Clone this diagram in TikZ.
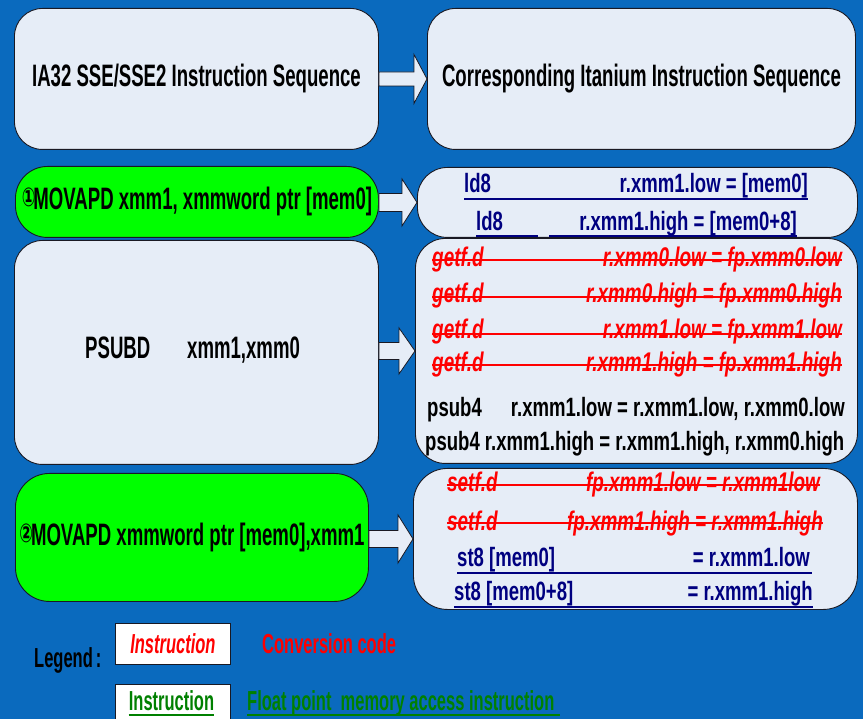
\documentclass[tikz,border=0pt]{standalone}
\usepackage{fontspec}
\setmainfont{Liberation Sans}
\newfontfamily\nA{Liberation Sans}[FakeStretch=0.6]
\newfontfamily\nB{Liberation Sans}[FakeStretch=0.7]
\newfontfamily\dvs{DejaVu Sans}[FakeStretch=0.62]
\usetikzlibrary{calc}
\definecolor{bgblue}{RGB}{10,106,190}
\definecolor{boxfill}{RGB}{230,237,247}
\definecolor{navy}{RGB}{0,0,128}
\definecolor{lgreen}{RGB}{0,255,0}
\definecolor{dgreen}{RGB}{0,128,0}
\definecolor{edge}{RGB}{25,25,35}
\newcommand{\blkarrow}[5]{%
  \draw[arrowsty] let \p1=(#1.east), \p2=(#2.west) in
  (\x1,\y2+#3) -- (\x2-#5,\y2+#3) -- (\x2-#5,\y2+#4) -- (\x2,\y2) --
  (\x2-#5,\y2-#4) -- (\x2-#5,\y2-#3) -- (\x1,\y2-#3) -- cycle;}
\newcommand{\circnum}[1]{\raisebox{3pt}{\dvs\fontsize{26}{26}\selectfont #1}\kern-2pt}
\tikzset{
  box/.style={draw=edge, line width=0.9pt, fill=boxfill, rounded corners=#1,
    inner sep=0pt, anchor=north west},
  box/.default=28pt,
  gbox/.style={box=#1, fill=lgreen},
  gbox/.default=32pt,
  arrowsty/.style={draw=edge, line width=0.8pt, fill=boxfill},
  ttl/.style={font=\nA\bfseries\fontsize{31}{36}\selectfont, text=black},
  nav/.style={font=\nB\bfseries\fontsize{26.5}{30}\selectfont, text=navy, inner sep=0pt},
  rd/.style={font=\nB\bfseries\itshape\fontsize{27}{30}\selectfont, text=red, inner sep=0pt},
  blk/.style={font=\nB\bfseries\fontsize{26.5}{30}\selectfont, text=black, inner sep=0pt},
  lg/.style={font=\nA\bfseries\fontsize{27.5}{30}\selectfont, inner sep=0pt},
  ul/.style={draw=navy, line width=2pt},
  strike/.style={draw=red, line width=1.6pt},
  gul/.style={draw=dgreen, line width=2pt},
}
\begin{document}
\begin{tikzpicture}[x=1pt,y=1pt]
\fill[bgblue] (0,0) rectangle (863,-719);
\clip (0,0) rectangle (863,-719);
\useasboundingbox (0,0) rectangle (863,-719);

% boxes
\node[box, ttl, minimum width=364pt, minimum height=141pt] (tl) at (14,-8) {IA32 SSE/SSE2 Instruction Sequence};
\node[box, ttl, minimum width=428pt, minimum height=141pt] (tr) at (427,-8) {Corresponding Itanium Instruction Sequence};

\node[gbox, ttl, minimum width=363pt, minimum height=71pt] (g1) at (15,-166) {\circnum{①}MOVAPD xmm1, xmmword ptr [mem0]};
\node[box=30pt, minimum width=440pt, minimum height=70pt] (r1) at (417,-167) {};

\node[box, minimum width=364pt, minimum height=224pt] (l3) at (14,-240) {};
\node[box=30pt, minimum width=442pt, minimum height=225pt] (r3) at (415,-238) {};

\node[gbox=34pt, ttl, minimum width=353pt, minimum height=128pt] (g4) at (15,-473) {\circnum{②}MOVAPD xmmword ptr [mem0],xmm1};
\node[box=34pt, minimum width=444pt, minimum height=141pt] (r4) at (413,-468) {};

% arrows
\blkarrow{tl}{tr}{7pt}{24.5pt}{13pt}
\blkarrow{g1}{r1}{9pt}{23.5pt}{15pt}
\blkarrow{l3}{r3}{8.5pt}{23pt}{16pt}
\blkarrow{g4}{r4}{8.5pt}{24pt}{15pt}

% PSUBD
\node[ttl, inner sep=0pt, anchor=base west] (ps1) at (85,-359) {PSUBD};
\node[ttl, inner sep=0pt, anchor=base west] (ps2) at (187,-359) {xmm1,xmm0};

% row 2 right
\node[nav, anchor=base west] (a1) at (464,-193) {ld8};
\node[nav, anchor=base east] (b1) at (808,-193) {r.xmm1.low = [mem0]};
\draw[ul] ([yshift=-6pt]a1.base west) -- ([yshift=-6pt]b1.base east);
\node[nav, anchor=base west] (a2) at (476,-231) {ld8};
\node[nav, anchor=base east] (b2) at (797,-231) {r.xmm1.high = [mem0+8]};
\draw[ul] ([yshift=-5pt]a2.base west) -- ++(62pt,0);
\draw[ul] ([yshift=-5pt,xshift=-30pt]b2.base west) -- ([yshift=-5pt]b2.base east);

% row 3 right
\node[rd, anchor=base west] (c1) at (432,-267) {getf.d};
\node[rd, anchor=base east] (d1) at (842,-267) {r.xmm0.low = fp.xmm0.low};
\draw[strike] ([yshift=7pt]c1.base west) -- ([yshift=7pt]d1.base east);
\node[rd, anchor=base west] (c2) at (432,-303) {getf.d};
\node[rd, anchor=base east] (d2) at (842,-303) {r.xmm0.high = fp.xmm0.high};
\draw[strike] ([yshift=6pt]c2.base west) -- ([yshift=6pt]d2.base east);
\node[rd, anchor=base west] (c3) at (432,-339) {getf.d};
\node[rd, anchor=base east] (d3) at (842,-339) {r.xmm1.low = fp.xmm1.low};
\draw[strike] ([yshift=5pt]c3.base west) -- ([yshift=5pt]d3.base east);
\node[rd, anchor=base west] (c4) at (432,-372) {getf.d};
\node[rd, anchor=base east] (d4) at (842,-372) {r.xmm1.high = fp.xmm1.high};
\draw[strike] ([yshift=7pt]c4.base west) -- ([yshift=7pt]d4.base east);
\node[blk, anchor=base west] (e5) at (427,-417) {psub4};
\node[blk, anchor=base east] (f5) at (845,-417) {r.xmm1.low = r.xmm1.low, r.xmm0.low};
\node[blk, anchor=base west] (e6) at (425,-450) {psub4 r.xmm1.high = r.xmm1.high, r.xmm0.high};

% row 4 right
\node[rd, anchor=base west] (s1) at (447,-492) {setf.d};
\node[rd, anchor=base east] (t1) at (820,-492) {fp.xmm1.low = r.xmm1low};
\draw[strike] ([yshift=7pt]s1.base west) -- ([yshift=7pt]t1.base east);
\node[rd, anchor=base west] (s2) at (447,-530) {setf.d};
\node[rd, anchor=base east] (t2) at (823,-530) {fp.xmm1.high = r.xmm1.high};
\draw[strike] ([yshift=7pt]s2.base west) -- ([yshift=7pt]t2.base east);
\node[nav, anchor=base west] (s3) at (457,-566) {st8 [mem0]};
\node[nav, anchor=base east] (t3) at (810,-566) {= r.xmm1.low};
\draw[ul] ([yshift=-7pt]s3.base west) -- ([yshift=-7pt,xshift=2pt]t3.base east);
\node[nav, anchor=base west] (s4) at (454,-600) {st8 [mem0+8]};
\node[nav, anchor=base east] (t4) at (813,-600) {= r.xmm1.high};
\draw[ul] ([yshift=-7pt]s4.base west) -- ([yshift=-7pt]t4.base east);

% legend
\node[lg, anchor=base west] (leg) at (34,-667) {Legend\kern3pt:};
\node[draw=edge, line width=0.8pt, fill=white, minimum width=115pt, minimum height=41pt,
  anchor=north west, inner sep=0pt, lg, text=red, font=\nA\bfseries\itshape\fontsize{27.5}{30}\selectfont] (lb1) at (115,-623) {Instruction};
\node[lg, text=red, anchor=base west] (cc) at (262,-653) {Conversion code};
\node[draw=edge, line width=0.8pt, fill=white, minimum width=115pt, minimum height=41pt,
  anchor=north west, inner sep=0pt] (lb2) at (115,-684) {};
\node[lg, text=dgreen, anchor=base] (li2) at (171.5,-710) {Instruction};
\draw[gul] ([yshift=-5pt]li2.base west) -- ([yshift=-5pt]li2.base east);
\node[lg, text=dgreen, anchor=base west] (fp) at (247,-710) {Float point~ memory access instruction};
\draw[gul] ([yshift=-5pt]fp.base west) -- ([yshift=-5pt,xshift=5pt]fp.base east);
\end{tikzpicture}
\end{document}
